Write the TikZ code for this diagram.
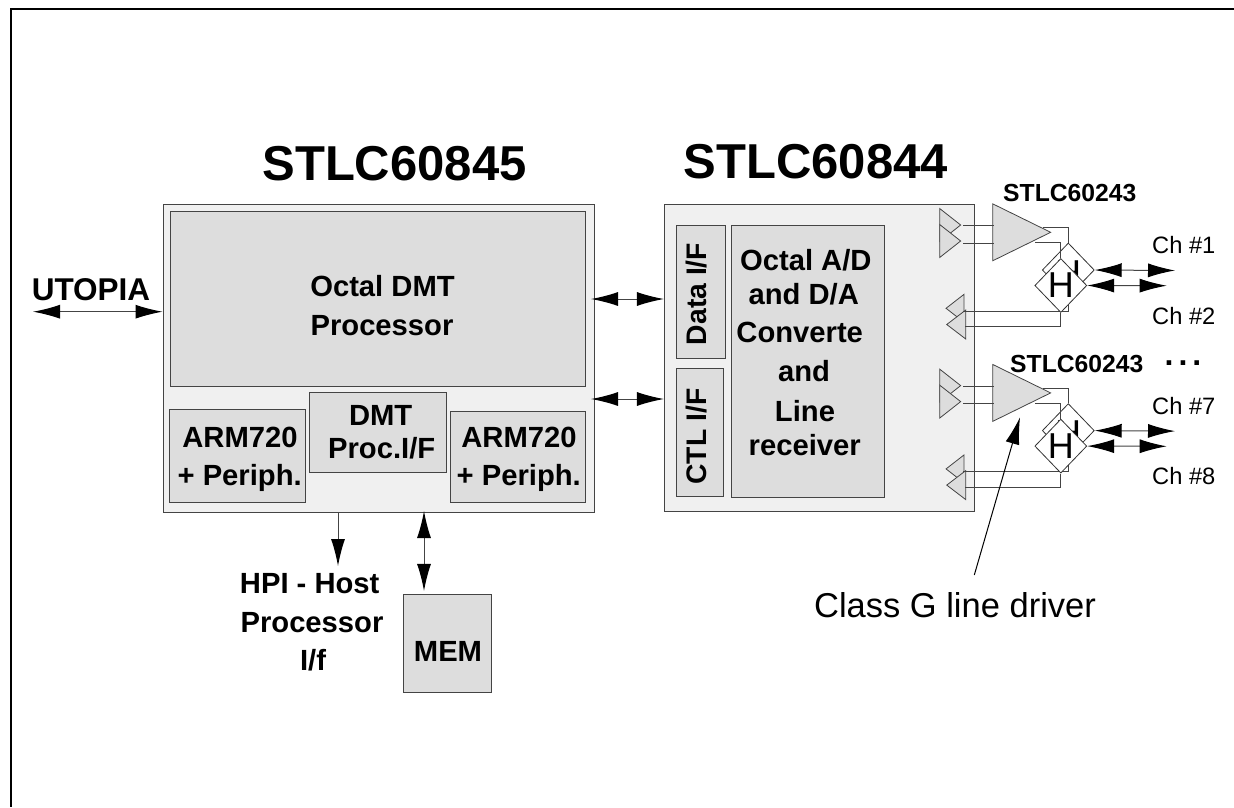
\documentclass[tikz,border=0pt]{standalone}
\usepackage{fontspec}
\setmainfont{Liberation Sans}
\usetikzlibrary{positioning,arrows.meta,calc,shapes.geometric}
\definecolor{chipfill}{HTML}{F0F0F0}
\definecolor{blockfill}{HTML}{DDDDDD}
\definecolor{edgegray}{HTML}{444444}
\tikzset{
  chipbox/.style={draw=edgegray, line width=1pt, fill=chipfill, inner sep=0pt},
  blockbox/.style={draw=edgegray, line width=1pt, fill=blockfill, inner sep=0pt},
  wire/.style={draw=edgegray, line width=1pt},
  biarrow/.style={wire, {Latex[length=27pt,width=14pt,color=black]}-{Latex[length=27pt,width=14pt,color=black]}},
  uniarrow/.style={wire, -{Latex[length=27pt,width=14pt,color=black]}},
  ampshape/.style={draw=edgegray, line width=0.8pt, fill=blockfill, shape=isosceles triangle, isosceles triangle stretches, inner sep=0pt},
  hybshape/.style={draw=black!80, line width=0.8pt, fill=white, shape=diamond, inner sep=0pt, minimum width=52pt, minimum height=54pt},
  hybtext/.style={font=\fontsize{36}{36}\selectfont, inner sep=0pt},
  lbl/.style={font=\fontsize{29.2}{34}\selectfont\bfseries, anchor=base, inner sep=0pt},
  sidelbl/.style={font=\fontsize{28.3}{34}\selectfont\bfseries, anchor=base, inner sep=0pt, rotate=90},
  title/.style={font=\fontsize{49}{58}\selectfont\bfseries, anchor=base, inner sep=0pt},
  partno/.style={font=\fontsize{24.7}{30}\selectfont\bfseries, anchor=base west, inner sep=0pt},
  chlbl/.style={font=\fontsize{23.7}{28}\selectfont, anchor=base west, inner sep=0pt},
}
\begin{document}
\begin{tikzpicture}[x=1pt, y=-1pt]
\useasboundingbox (0,0) rectangle (1234,807);
% open frame
\coordinate (frameTR) at (1234,9);
\coordinate (frameBL) at (11,807);
\draw[line width=2.2pt] (frameTR) -| (frameBL);
% left chip
\node[chipbox, minimum width=431pt, minimum height=308pt] (dmtchip) at (378.5,358) {};
\node[blockbox, minimum width=415pt, minimum height=175pt] (octal) at (378,298.5) {};
\node[blockbox, minimum width=135.5pt, minimum height=92.5pt] (armL) at (237.7,456.2) {};
\node[blockbox, minimum width=137pt, minimum height=80.5pt] (dmtif) at (378,432.7) {};
\node[blockbox, minimum width=135pt, minimum height=90.5pt] (armR) at (518,457.2) {};
\node[blockbox, minimum width=88pt, minimum height=98.5pt] (mem) at (447,643.7) {};
\node[title] (t845) at (394.5,180.5) {STLC60845};
\node[lbl] (oct1) at (382.5,296.7) {Octal DMT};
\node[lbl] (oct2) at (382,335.7) {Processor};
\node[lbl] (arm1a) at (240,447.3) {ARM720};
\node[lbl] (arm1b) at (239.7,485) {+ Periph.};
\node[lbl] (dmt1) at (380.7,425) {DMT};
\node[lbl] (dmt2) at (381.7,458) {Proc.I/F};
\node[lbl] (arm2a) at (519,447.3) {ARM720};
\node[lbl] (arm2b) at (518.8,485) {+ Periph.};
\node[lbl] (memt) at (448,661.7) {MEM};
\node[lbl] (hpi1) at (309.7,593.3) {HPI - Host};
\node[lbl] (hpi2) at (312,632.7) {Processor};
\node[lbl] (hpi3) at (313,670) {I/f};
\node[lbl, font=\fontsize{31.5}{36}\selectfont\bfseries] (utopia) at (91,300.7) {UTOPIA};
% right chip
\node[chipbox, minimum width=310.5pt, minimum height=307pt] (afechip) at (819.7,357.5) {};
\node[blockbox, minimum width=49pt, minimum height=133.5pt] (dataif) at (701,292.2) {};
\node[blockbox, minimum width=47pt, minimum height=128.5pt] (ctlif) at (700,432.7) {};
\node[blockbox, minimum width=153.5pt, minimum height=272.5pt] (conv) at (808.2,361.7) {};
\node[title] (t844) at (815.7,178.5) {STLC60844};
\node[sidelbl] (datat) at (706,294) {Data I/F};
\node[sidelbl] (ctlt) at (706.5,436.6) {CTL I/F};
\foreach \txt/\xx/\yy [count=\i] in {{Octal A/D}/805.8/270.7, {and D/A}/803.8/304, Converte/799.7/342.7, and/804/381.7, Line/805/421.7, receiver/804.7/455}
  \node[lbl] (conv\i) at (\xx,\yy) {\txt};
% bus arrows
\coordinate (utopiaEnd) at (33,311.7);
\coordinate (dataEnd) at (591,299);
\coordinate (ctlEnd) at (591,399);
\coordinate (hpiEnd) at (338,566);
\coordinate (memEnd) at (424,511);
\draw[biarrow] (utopiaEnd) -- (utopiaEnd -| dmtchip.west);
\draw[biarrow] (dataEnd) -- (dataEnd -| afechip.west);
\draw[biarrow] (ctlEnd) -- (ctlEnd -| afechip.west);
\draw[uniarrow] (hpiEnd |- dmtchip.south) -- (hpiEnd);
\draw[biarrow] (memEnd) -- ($(memEnd |- mem.north)+(0,-3)$);
% line driver groups
\foreach \g/\dy in {a/0,b/160.6} {
\begin{scope}[yshift=-\dy pt]
  \node[ampshape, minimum width=33pt, minimum height=21pt, anchor=apex] (tx1\g) at (961.7,225) {};
  \node[ampshape, minimum width=33pt, minimum height=21pt, anchor=apex] (tx2\g) at (961.7,241) {};
  \node[ampshape, minimum width=57pt, minimum height=58pt, anchor=apex] (amp\g) at (1051.7,232.3) {};
  \node[ampshape, minimum width=28pt, minimum height=18pt, anchor=apex, shape border rotate=180] (rx1\g) at (945,308.3) {};
  \node[ampshape, minimum width=29pt, minimum height=19pt, anchor=apex, shape border rotate=180] (rx2\g) at (945.7,324.5) {};
  \draw[wire] (tx1\g.apex) ++(1.5,0.7) -- ++(30.5,0);
  \draw[wire] (tx2\g.apex) ++(1.5,2) -- ++(30.5,0);
  \node[hybshape] (hyb1\g) at (1068.3,270) {};
  \node[hybtext] (hybt1\g) at (1068,273) {H};
  \coordinate (ampOut1\g) at (1043,227.7);
  \coordinate (ampOut2\g) at (1035,242.7);
  \coordinate (lineEnd1\g) at (1175,270.5);
  \coordinate (lineEnd2\g) at (1166.7,285.7);
  \coordinate (rxIn1\g) at (963,311);
  \coordinate (rxIn2\g) at (965,326.7);
  \draw[wire] (ampOut1\g) -| (hyb1\g.north);
  \draw[wire] (hyb1\g.south) |- (rxIn1\g);
  \draw[wire] (ampOut2\g) -| (1060.3,258.3);
  \node[hybshape, hybtext] (hyb2\g) at (1060.8,285.5) {H};
  \draw[wire] (hyb2\g.south) |- (rxIn2\g);
  \draw[biarrow] (hyb1\g.east) -- (lineEnd1\g);
  \draw[biarrow] (hyb2\g.east) -- (lineEnd2\g);
\end{scope}
}
\node[partno] (part1) at (1003,201.7) {STLC60243};
\node[partno] (part2) at (1010,372.3) {STLC60243};
\node[partno, font=\fontsize{32}{36}\selectfont\bfseries] (dots) at (1164.5,365) {.\kern5pt.\kern5pt.};
\node[chlbl] (ch1) at (1152,253) {Ch \#1};
\node[chlbl] (ch2) at (1152,324) {Ch \#2};
\node[chlbl] (ch7) at (1152,414) {Ch \#7};
\node[chlbl] (ch8) at (1152,484) {Ch \#8};
% driver callout
\node[font=\fontsize{34.5}{40}\selectfont, anchor=base, inner sep=0pt] (classg) at (955,617) {Class G line driver};
\coordinate (calloutEnd) at (974.3,575);
\coordinate (calloutTip) at (1020,417.3);
\draw[uniarrow, draw=black] (calloutEnd) -- (calloutTip);
\end{tikzpicture}
\end{document}
